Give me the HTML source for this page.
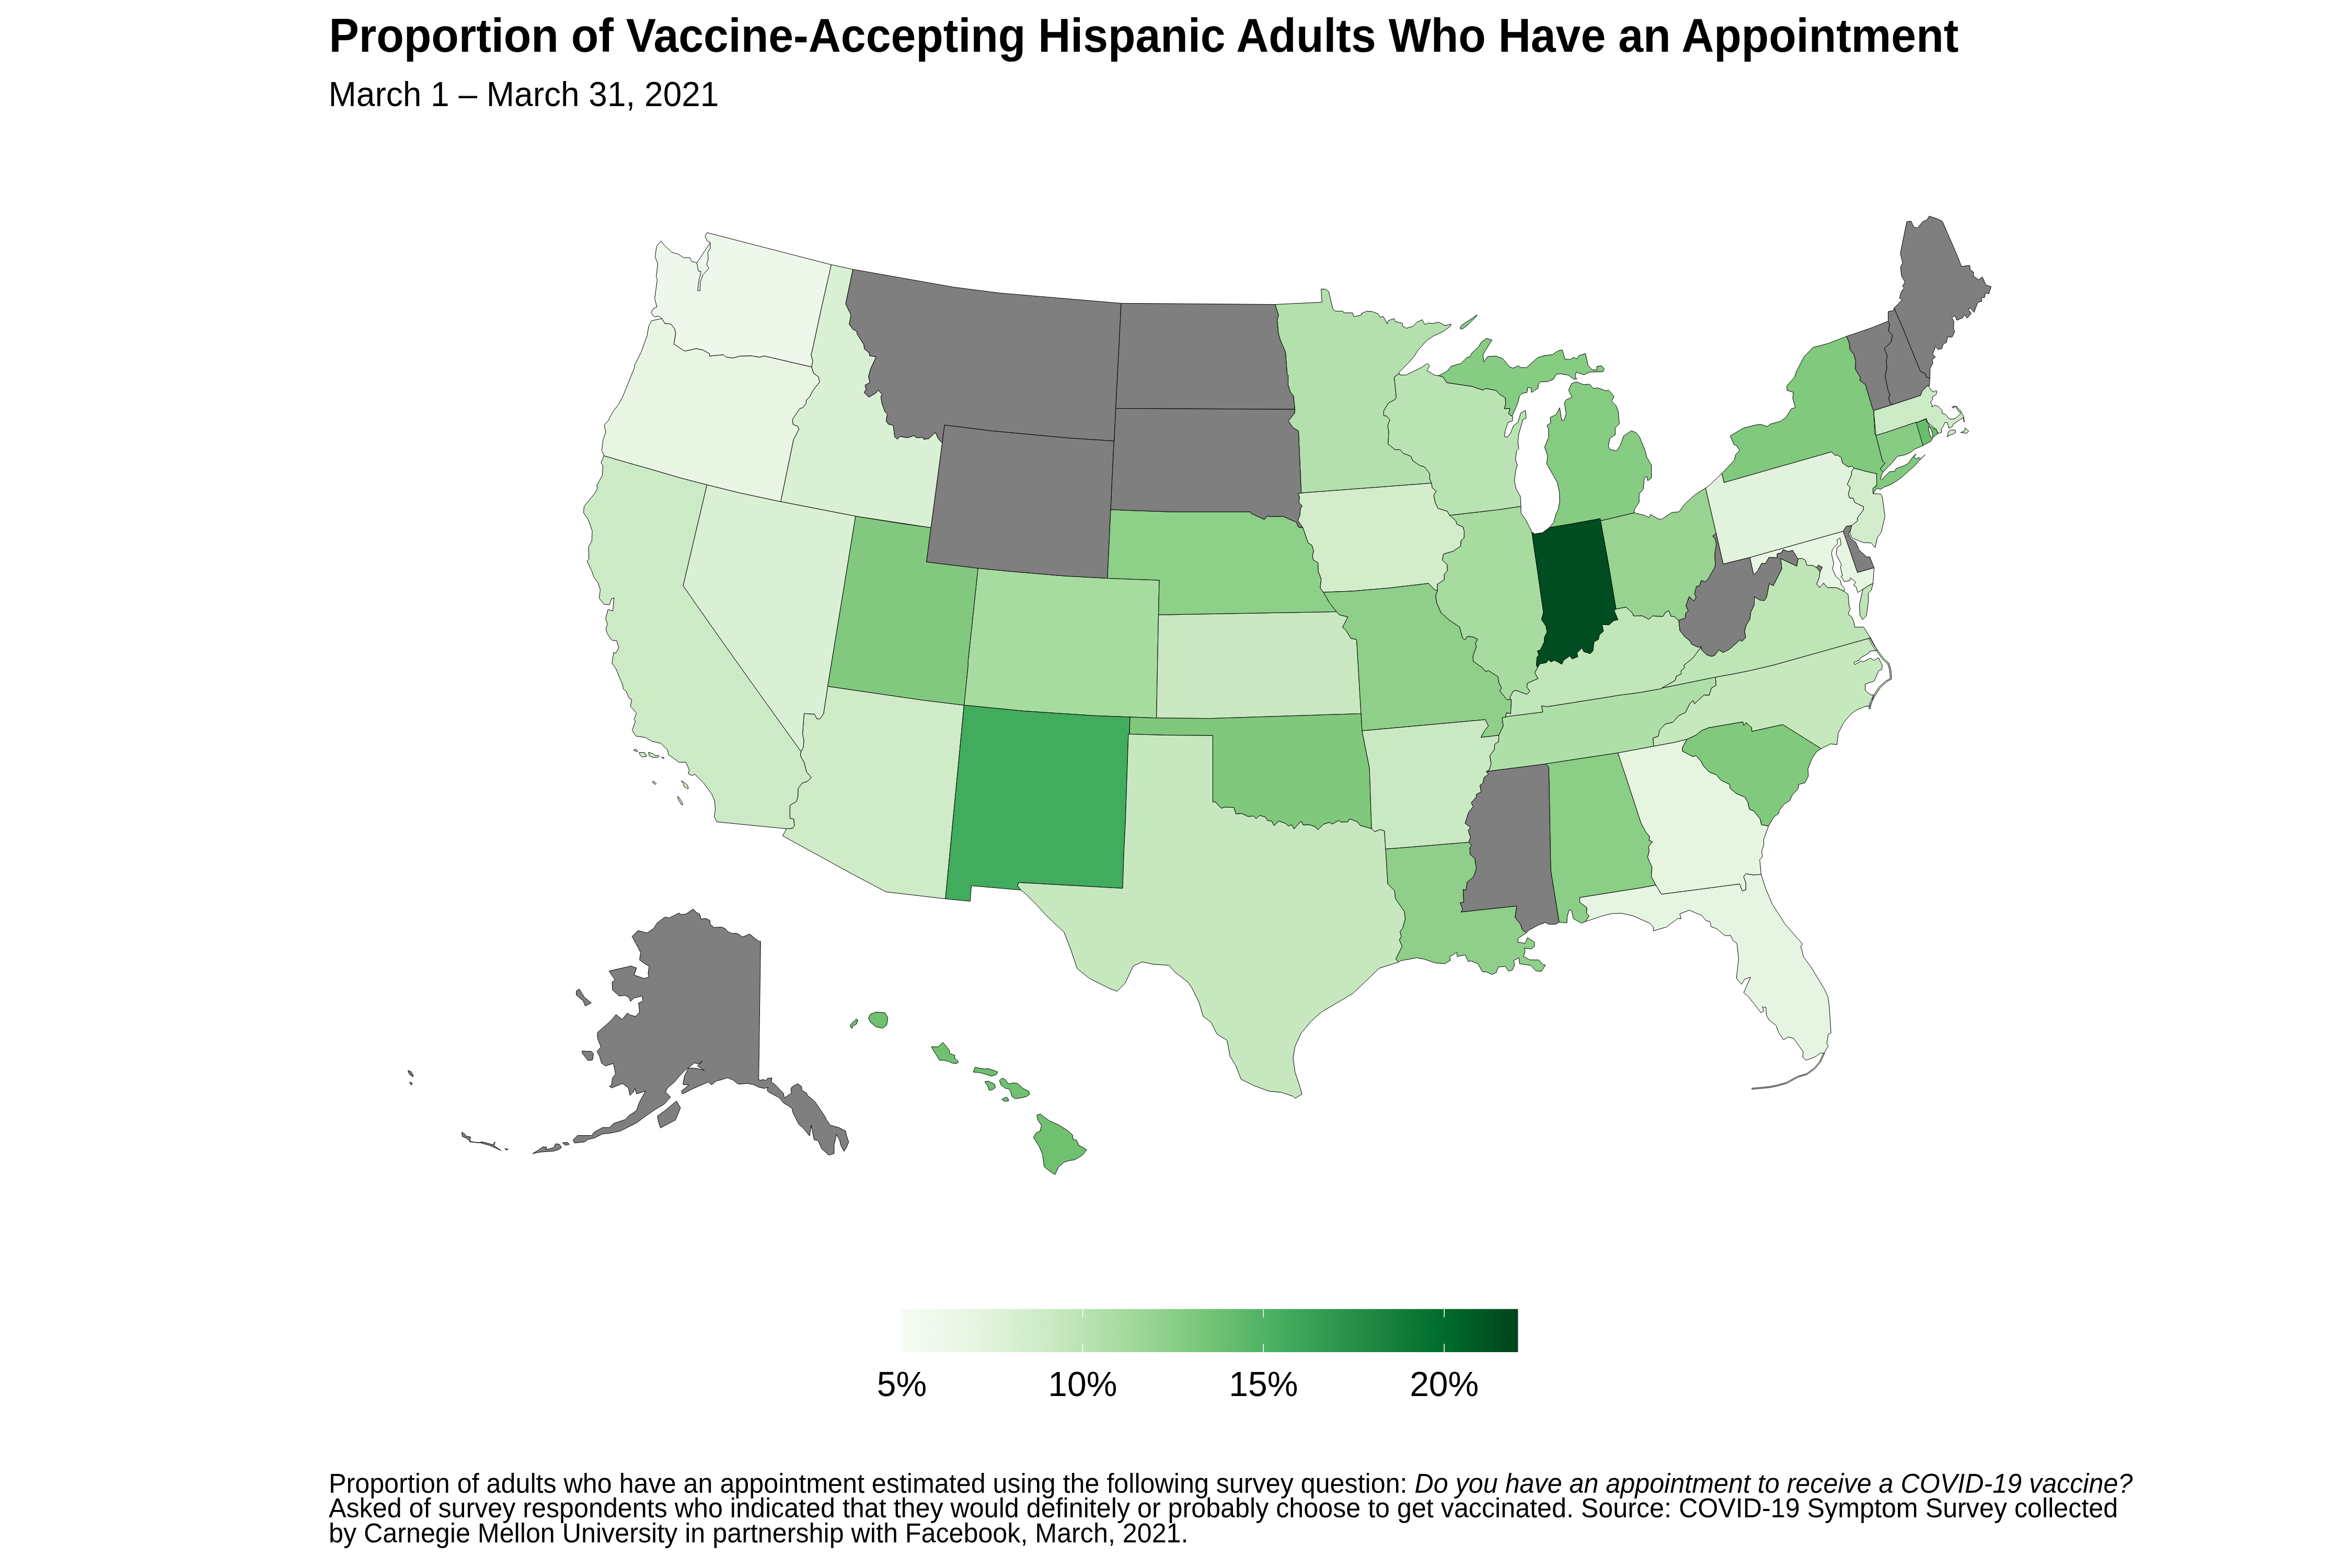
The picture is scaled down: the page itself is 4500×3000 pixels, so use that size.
<!DOCTYPE html>
<html><head><meta charset="utf-8"><style>
html,body{margin:0;padding:0;background:#fff;width:4500px;height:3000px;overflow:hidden}
svg{display:block}
text{font-family:"Liberation Sans",sans-serif;fill:#000}
</style></head><body>
<svg width="4500" height="3000" viewBox="0 0 4500 3000">
<rect width="4500" height="3000" fill="#fff"/>
<text transform="translate(629.5,99) scale(1,1.055)" font-size="86" font-weight="bold">Proportion of Vaccine-Accepting Hispanic Adults Who Have an Appointment</text>
<text transform="translate(628.5,203) scale(1,1.027)" font-size="64">March 1 – March 31, 2021</text>
<g stroke="#000" stroke-width="1.0" stroke-linejoin="round">
<path fill="#8bce86" d="M3001.9,1454.5 3095.4,1440.4 3113.6,1494.7 3139.7,1574.6 3148.8,1591.7 3156.4,1600.8 3155.0,1607.7 3161.9,1610.5 3153.9,1620.3 3155.4,1628.4 3152.3,1640.3 3160.7,1658.9 3159.4,1676.7 3168.2,1693.4 3140.7,1698.5 3022.9,1717.2 3022.1,1726.0 3036.3,1736.6 3035.5,1747.6 3040.5,1752.3 3033.4,1763.2 3025.9,1766.4 3010.3,1757.7 3006.8,1742.0 3002.3,1740.8 2998.5,1753.7 2998.0,1765.7 2983.0,1764.4 2967.0,1665.6 2964.6,1540.0 2963.2,1467.5 2956.8,1461.5 3001.9,1454.5Z"/><path fill="#cfebc8" d="M1844.5,1349.2 1808.9,1719.7 1695.0,1706.3 1632.3,1673.2 1497.4,1599.2 1504.8,1585.6 1515.9,1584.9 1519.8,1579.8 1518.6,1567.2 1511.2,1565.5 1511.3,1540.7 1523.8,1533.3 1526.7,1523.9 1527.0,1508.3 1535.2,1498.0 1544.4,1495.2 1552.2,1487.7 1543.0,1476.7 1538.3,1458.3 1531.3,1446.1 1532.5,1437.9 1537.1,1429.6 1537.9,1417.3 1535.5,1404.0 1538.4,1365.3 1558.1,1366.2 1563.2,1375.1 1568.4,1375.7 1575.6,1365.5 1583.7,1313.1 1768.4,1339.9 1844.5,1349.2Z"/><path fill="#cdeac6" d="M1201.4,885.4 1241.3,896.6 1303.9,914.9 1352.6,927.5 1326.4,1039.1 1307.1,1120.7 1358.4,1194.1 1408.5,1264.9 1449.1,1321.6 1478.8,1363.1 1532.5,1437.9 1531.3,1446.1 1538.3,1458.3 1543.0,1476.7 1552.2,1487.7 1544.4,1495.2 1535.2,1498.0 1527.0,1508.3 1526.7,1523.9 1523.8,1533.3 1511.3,1540.7 1511.2,1565.5 1518.6,1567.2 1519.8,1579.8 1515.9,1584.9 1504.8,1585.6 1431.3,1578.4 1371.5,1572.4 1366.4,1562.6 1368.6,1549.1 1367.3,1532.2 1361.7,1519.3 1347.8,1500.1 1329.1,1481.0 1324.3,1484.0 1316.5,1479.7 1319.0,1473.6 1312.2,1458.4 1299.1,1458.4 1278.9,1443.7 1277.3,1435.2 1264.6,1422.2 1247.7,1418.5 1234.8,1411.0 1216.8,1408.4 1209.5,1397.6 1215.5,1380.1 1213.0,1376.5 1217.8,1364.3 1206.3,1351.3 1208.7,1338.1 1203.8,1336.1 1197.9,1322.6 1192.6,1318.6 1191.6,1310.9 1178.3,1279.2 1170.9,1269.0 1174.1,1247.7 1177.5,1250.5 1184.1,1239.1 1179.7,1225.9 1170.5,1224.9 1161.4,1211.5 1159.3,1202.3 1162.1,1194.7 1158.9,1182.9 1163.2,1166.1 1172.5,1168.7 1174.7,1144.0 1170.1,1145.4 1166.2,1156.7 1155.8,1156.4 1146.4,1144.3 1148.5,1128.7 1144.1,1114.5 1136.1,1104.3 1133.0,1094.3 1123.1,1073.5 1126.8,1069.3 1126.1,1046.0 1132.3,1034.9 1133.1,1015.8 1125.7,994.5 1116.5,981.0 1117.5,968.8 1137.5,944.5 1142.5,935.7 1142.3,927.7 1152.3,909.8 1153.5,891.1 1149.7,885.3 1155.8,872.0 1201.4,885.4ZM1212.1,1435.0 1217.2,1433.4 1220.4,1437.2 1216.6,1437.5ZM1223.0,1439.5 1228.7,1439.5 1233.8,1440.1 1233.8,1443.0 1236.7,1444.6 1236.4,1447.4 1228.1,1448.4 1224.9,1444.9ZM1240.8,1439.1 1249.7,1442.3 1254.2,1446.1 1258.7,1444.9 1261.5,1446.8 1259.3,1449.0 1250.4,1449.3 1242.4,1446.1ZM1265.4,1448.4 1270.8,1450.0 1268.9,1451.6ZM1248.5,1495.3 1251.7,1495.3 1255.8,1499.4 1253.6,1500.7 1249.1,1497.8ZM1303.3,1494.0 1307.1,1495.6 1314.8,1501.6 1317.3,1508.0 1316.1,1509.3 1308.4,1504.8 1307.8,1499.7ZM1296.5,1523.5 1300.0,1527.0 1307.0,1539.0 1304.0,1540.0 1298.0,1530.0Z"/><path fill="#a6dc9f" d="M1927.0,1092.6 2035.4,1101.9 2118.7,1106.4 2218.0,1110.1 2216.5,1176.0 2212.6,1373.7 2162.1,1371.9 2091.6,1369.2 1958.6,1360.4 1929.6,1357.6 1844.5,1349.2 1852.2,1272.8 1852.1,1265.6 1858.1,1210.0 1871.2,1087.2 1927.0,1092.6Z"/><path fill="#88cc84" d="M3609.1,827.0 3666.5,807.5 3666.9,808.6 3679.8,845.9 3679.0,852.7 3663.3,859.2 3655.0,865.8 3645.0,870.0 3630.0,873.3 3620.0,885.8 3613.3,892.5 3602.9,903.2 3597.3,897.0 3606.5,886.2 3601.6,882.1 3589.1,833.1 3609.1,827.0Z"/><path fill="#7f7f7f" d="M3542.8,1005.6 3540.6,1014.6 3536.8,1020.4 3540.8,1030.2 3550.6,1037.4 3557.0,1052.6 3572.0,1065.8 3577.1,1065.0 3585.6,1086.3 3553.8,1095.4 3526.4,1016.3 3532.6,1006.8 3542.8,1005.6Z"/><path fill="#e6f5e1" d="M3140.7,1698.5 3168.2,1693.4 3178.7,1710.8 3256.0,1700.8 3328.3,1691.2 3333.5,1704.4 3340.2,1702.6 3340.2,1689.0 3335.9,1677.4 3340.2,1671.4 3353.9,1673.9 3369.6,1673.1 3378.2,1700.2 3391.1,1730.2 3415.2,1767.9 3448.6,1806.3 3445.4,1810.0 3450.6,1830.5 3465.6,1851.0 3491.0,1893.3 3497.2,1906.8 3499.6,1921.7 3503.2,1976.4 3498.0,1978.6 3495.2,1996.6 3498.1,2001.4 3489.0,2015.9 3484.1,2014.1 3474.0,2021.5 3455.8,2028.5 3449.2,2023.0 3450.0,2012.5 3431.9,1986.9 3420.8,1983.9 3412.4,1989.6 3402.7,1975.2 3398.5,1962.6 3384.0,1950.7 3379.5,1941.7 3379.0,1927.6 3371.9,1926.5 3374.9,1934.3 3369.2,1937.6 3345.0,1906.4 3336.2,1899.1 3349.2,1869.8 3338.2,1873.5 3332.0,1883.2 3322.3,1871.9 3326.4,1834.6 3323.3,1804.8 3315.3,1799.2 3311.5,1790.0 3300.2,1790.1 3284.9,1777.1 3273.6,1772.7 3271.4,1763.2 3263.8,1761.1 3256.1,1751.6 3232.2,1741.5 3213.9,1748.2 3216.4,1758.0 3210.0,1757.3 3188.3,1773.7 3163.5,1780.9 3163.1,1773.7 3156.0,1766.2 3123.9,1752.0 3101.7,1747.2 3082.5,1748.1 3067.0,1752.0 3033.4,1763.2 3040.5,1752.3 3035.5,1747.6 3036.3,1736.6 3022.1,1726.0 3022.9,1717.2 3140.7,1698.5ZM3489.1,2014.6 3481.2,2031.5 3471.3,2043.3 3456.6,2054.1 3439.6,2059.1 3417.6,2071.1 3399.8,2076.0 3384.9,2079.0 3351.9,2082.0 3352.1,2084.0 3385.1,2081.0 3400.2,2078.0 3418.4,2072.9 3440.4,2060.9 3457.4,2055.9 3472.7,2044.7 3482.8,2032.5 3490.9,2015.4Z"/><path fill="#e5f5e0" d="M3227.7,1414.4 3218.9,1430.5 3219.3,1437.4 3239.5,1447.7 3244.9,1445.5 3255.6,1458.0 3258.8,1465.1 3269.8,1476.8 3283.6,1482.3 3292.9,1492.9 3309.4,1500.8 3310.3,1508.3 3322.0,1518.3 3338.4,1525.0 3344.0,1534.9 3347.3,1548.5 3355.6,1551.5 3367.6,1566.9 3370.1,1577.8 3383.7,1580.5 3374.6,1605.6 3374.4,1617.4 3370.6,1628.6 3371.9,1639.0 3366.8,1645.0 3369.6,1673.1 3353.9,1673.9 3340.2,1671.4 3335.9,1677.4 3340.2,1689.0 3340.2,1702.6 3333.5,1704.4 3328.3,1691.2 3256.0,1700.8 3178.7,1710.8 3168.2,1693.4 3159.4,1676.7 3160.7,1658.9 3152.3,1640.3 3155.4,1628.4 3153.9,1620.3 3161.9,1610.5 3155.0,1607.7 3156.4,1600.8 3148.8,1591.7 3139.7,1574.6 3113.6,1494.7 3095.4,1440.4 3163.7,1427.7 3200.9,1420.9 3227.7,1414.4Z"/><path fill="#daf0d4" d="M1631.8,515.3 1618.0,581.6 1628.2,602.5 1624.9,620.3 1631.6,629.8 1639.9,634.3 1640.0,639.2 1653.0,659.8 1653.6,667.3 1663.9,676.2 1663.6,680.5 1676.5,682.5 1665.7,705.6 1661.7,720.7 1664.6,731.5 1655.1,737.2 1657.1,744.5 1653.6,751.2 1662.1,759.7 1674.8,752.8 1680.5,746.5 1687.6,754.3 1685.4,759.5 1687.7,772.7 1693.0,787.2 1697.7,792.8 1695.3,805.3 1699.7,811.5 1709.2,813.8 1711.9,835.8 1716.6,840.3 1722.4,835.0 1736.5,837.5 1748.3,833.5 1754.2,837.7 1765.5,836.4 1767.3,840.4 1777.0,839.3 1789.6,827.1 1795.3,839.7 1802.8,847.6 1781.2,1009.6 1637.0,987.7 1493.7,959.7 1518.2,841.1 1528.7,821.2 1526.2,815.4 1517.4,812.5 1516.1,802.5 1530.2,781.4 1535.5,780.3 1542.2,771.7 1542.7,765.5 1549.5,758.9 1554.7,748.0 1568.0,730.9 1566.2,721.2 1556.6,714.3 1552.8,702.1 1555.0,690.6 1551.6,678.0 1553.5,672.9 1572.2,586.4 1590.2,506.4 1631.8,515.3Z"/><path fill="#a7dba0" d="M2773.5,986.0 2862.6,975.7 2909.9,968.8 2910.1,981.6 2919.7,995.2 2930.9,1018.0 2953.2,1172.1 2949.4,1184.8 2957.7,1197.7 2960.2,1209.1 2955.1,1219.3 2954.7,1228.2 2947.4,1243.5 2941.7,1245.5 2944.2,1253.5 2940.7,1257.3 2939.7,1273.1 2942.0,1277.1 2936.4,1287.4 2942.8,1298.2 2922.3,1307.3 2921.2,1314.3 2927.1,1322.2 2921.3,1328.6 2900.9,1321.1 2895.0,1322.6 2888.4,1335.1 2891.4,1338.4 2883.0,1338.7 2869.2,1321.6 2872.9,1316.8 2867.2,1304.8 2866.0,1294.8 2847.7,1282.9 2842.2,1285.0 2835.6,1277.1 2818.9,1265.6 2818.0,1255.2 2824.8,1237.3 2822.8,1231.4 2826.9,1222.9 2819.1,1219.1 2807.7,1217.5 2802.5,1224.3 2798.1,1220.8 2792.5,1199.6 2774.1,1187.5 2757.0,1172.3 2748.6,1152.9 2746.8,1139.6 2750.2,1129.8 2749.8,1117.9 2763.0,1109.2 2763.2,1099.0 2769.1,1091.8 2768.7,1080.3 2759.6,1071.8 2761.6,1060.0 2780.3,1054.6 2794.7,1044.6 2795.1,1034.3 2801.0,1029.3 2801.4,1016.4 2799.1,1008.4 2787.5,1003.2 2785.4,996.6 2773.5,986.0Z"/><path fill="#004d21" d="M3004.6,1002.6 3061.6,992.2 3062.4,996.5 3076.6,1074.1 3091.9,1165.2 3088.5,1168.7 3095.7,1185.7 3087.0,1187.8 3078.7,1195.5 3065.2,1195.0 3067.9,1207.7 3060.2,1214.6 3058.2,1223.4 3049.8,1228.2 3047.7,1245.4 3042.5,1250.7 3030.1,1246.8 3026.9,1239.4 3017.0,1249.5 3018.9,1256.5 3007.8,1260.8 3003.5,1254.9 2991.5,1263.4 2988.3,1270.9 2974.0,1263.2 2967.5,1266.4 2962.4,1262.4 2958.8,1267.7 2946.0,1270.3 2942.0,1277.1 2939.7,1273.1 2940.7,1257.3 2944.2,1253.5 2941.7,1245.5 2947.4,1243.5 2954.7,1228.2 2955.1,1219.3 2960.2,1209.1 2957.7,1197.7 2949.4,1184.8 2953.2,1172.1 2930.9,1018.0 2936.3,1021.5 2951.2,1019.1 2964.4,1009.3 3004.6,1002.6Z"/><path fill="#d3ecca" d="M2731.6,924.8 2738.8,924.1 2740.4,933.6 2748.1,939.4 2743.2,947.9 2746.4,962.5 2751.2,972.5 2769.1,978.1 2773.5,986.0 2785.4,996.6 2787.5,1003.2 2799.1,1008.4 2801.4,1016.4 2801.0,1029.3 2795.1,1034.3 2794.7,1044.6 2780.3,1054.6 2761.6,1060.0 2759.6,1071.8 2768.7,1080.3 2769.1,1091.8 2763.2,1099.0 2763.0,1109.2 2749.8,1117.9 2750.2,1129.8 2744.5,1128.3 2733.1,1116.0 2728.0,1116.8 2657.2,1125.1 2588.7,1130.9 2532.0,1133.1 2525.8,1124.8 2527.7,1107.7 2522.1,1093.2 2521.6,1076.6 2512.7,1071.3 2510.9,1062.3 2513.5,1054.3 2509.7,1042.9 2502.8,1038.9 2492.7,1009.8 2483.1,995.7 2486.9,985.8 2488.0,972.8 2491.4,967.9 2485.1,961.7 2486.2,950.1 2483.4,944.8 2489.6,943.1 2731.6,924.8Z"/><path fill="#c9e8c1" d="M2223.9,1176.2 2557.1,1170.4 2562.4,1176.2 2579.0,1180.3 2568.7,1200.1 2575.5,1206.2 2584.5,1221.2 2595.6,1223.7 2604.0,1365.4 2315.6,1374.7 2212.6,1373.7 2216.5,1176.0 2223.9,1176.2Z"/><path fill="#c0e6b9" d="M3141.7,1178.1 3154.6,1184.7 3161.7,1178.4 3181.7,1179.5 3185.9,1172.0 3192.7,1168.4 3197.0,1178.9 3203.2,1179.5 3211.8,1186.9 3214.3,1206.7 3222.9,1217.8 3232.8,1225.7 3236.8,1232.6 3248.1,1237.9 3254.9,1237.5 3238.9,1259.1 3222.0,1272.7 3223.0,1277.7 3216.2,1283.6 3216.7,1289.3 3207.3,1293.9 3205.2,1301.7 3179.3,1316.6 3178.6,1317.8 3134.2,1325.6 3095.1,1330.6 3078.5,1333.5 2961.3,1352.0 2949.5,1350.8 2951.9,1362.5 2886.6,1370.7 2880.3,1372.2 2882.2,1363.6 2890.3,1365.4 2891.4,1338.4 2888.4,1335.1 2895.0,1322.6 2900.9,1321.1 2921.3,1328.6 2927.1,1322.2 2921.2,1314.3 2922.3,1307.3 2942.8,1298.2 2936.4,1287.4 2942.0,1277.1 2946.0,1270.3 2958.8,1267.7 2962.4,1262.4 2967.5,1266.4 2974.0,1263.2 2988.3,1270.9 2991.5,1263.4 3003.5,1254.9 3007.8,1260.8 3018.9,1256.5 3017.0,1249.5 3026.9,1239.4 3030.1,1246.8 3042.5,1250.7 3047.7,1245.4 3049.8,1228.2 3058.2,1223.4 3060.2,1214.6 3067.9,1207.7 3065.2,1195.0 3078.7,1195.5 3087.0,1187.8 3095.7,1185.7 3088.5,1168.7 3091.9,1165.2 3111.1,1161.5 3123.7,1173.1 3125.5,1178.6 3141.7,1178.1Z"/><path fill="#7f7f7f" d="M3478.9,1080.9 3486.7,1085.5 3482.1,1094.0 3475.9,1086.0 3478.9,1080.9Z"/><path fill="#8fcf89" d="M2674.9,1622.5 2810.0,1611.4 2815.9,1618.4 2812.2,1621.6 2812.8,1634.9 2821.8,1642.3 2824.8,1661.5 2819.5,1677.2 2807.1,1687.9 2805.1,1702.8 2799.4,1702.0 2800.6,1726.0 2793.8,1727.4 2798.9,1739.9 2795.3,1744.9 2902.0,1733.3 2898.7,1755.3 2909.4,1768.5 2912.7,1778.9 2920.3,1784.8 2904.4,1795.8 2903.8,1802.4 2918.0,1805.0 2922.8,1793.9 2935.8,1802.8 2935.7,1811.1 2929.2,1815.5 2916.0,1813.9 2918.2,1819.7 2914.8,1829.5 2926.6,1836.4 2944.5,1836.7 2951.8,1845.5 2957.0,1846.3 2949.0,1858.5 2938.7,1857.6 2929.0,1847.3 2907.3,1843.8 2906.2,1832.7 2896.2,1837.5 2897.7,1846.7 2893.8,1855.8 2886.4,1858.1 2879.8,1849.1 2866.5,1850.2 2862.7,1860.7 2854.1,1864.5 2844.1,1859.5 2836.4,1859.5 2827.8,1844.2 2814.3,1838.4 2809.3,1840.0 2803.1,1826.9 2788.2,1830.1 2787.2,1822.0 2773.1,1831.2 2775.4,1837.1 2764.5,1843.8 2746.7,1842.5 2725.6,1835.3 2710.8,1832.5 2679.8,1838.1 2675.9,1840.9 2670.5,1834.8 2682.5,1810.6 2677.3,1798.5 2681.0,1791.4 2678.6,1782.6 2683.7,1775.4 2688.6,1758.1 2686.8,1744.2 2669.5,1718.9 2668.3,1704.6 2655.1,1691.2 2651.0,1624.2 2674.9,1622.5Z"/><path fill="#7f7f7f" d="M3692.4,723.9 3685.4,721.5 3683.9,715.0 3674.2,710.5 3641.0,629.1 3623.9,589.4 3639.0,573.7 3634.3,570.5 3637.6,558.1 3643.1,550.9 3640.2,547.7 3644.7,539.2 3638.4,529.1 3636.1,511.0 3640.3,503.0 3635.9,484.6 3648.2,424.1 3656.4,423.0 3661.6,434.4 3668.6,436.2 3678.8,423.9 3687.0,420.4 3690.9,413.5 3706.3,418.4 3716.4,423.6 3746.4,492.7 3752.5,509.7 3768.6,507.8 3769.6,515.8 3776.1,520.9 3775.8,528.3 3785.7,535.2 3792.6,529.7 3799.9,545.6 3809.6,548.3 3805.0,562.0 3798.4,560.5 3797.1,569.1 3790.4,570.1 3792.1,576.1 3783.9,578.9 3776.9,597.6 3770.1,589.7 3765.4,590.9 3771.5,599.9 3763.6,608.8 3758.1,602.0 3755.1,608.0 3744.1,612.7 3740.2,603.6 3734.5,608.3 3738.2,614.3 3737.5,630.5 3740.2,633.8 3735.1,644.6 3726.0,645.1 3724.3,654.9 3718.0,658.6 3715.0,667.3 3707.8,668.6 3703.3,662.6 3697.7,677.4 3702.9,683.2 3696.6,688.4 3698.3,694.5 3692.8,704.9 3692.4,723.9Z"/><path fill="#e7f6e2" d="M3347.8,1066.6 3526.5,1016.3 3553.8,1095.4 3585.6,1086.3 3583.6,1116.3 3576.4,1119.7 3564.0,1127.7 3554.2,1133.7 3551.6,1123.1 3546.4,1120.1 3550.8,1113.8 3540.3,1105.6 3539.2,1110.9 3528.7,1112.9 3522.0,1102.4 3525.2,1101.4 3521.3,1086.3 3522.9,1079.4 3513.0,1060.3 3515.0,1046.8 3522.6,1042.2 3520.5,1029.6 3514.8,1032.8 3516.3,1039.2 3505.8,1051.1 3504.2,1059.5 3508.5,1078.4 3506.0,1088.5 3512.2,1102.6 3521.4,1110.9 3522.7,1118.9 3528.9,1125.4 3528.1,1131.3 3514.0,1124.5 3496.5,1124.3 3489.0,1115.8 3481.3,1124.1 3475.8,1117.4 3480.5,1105.4 3482.1,1094.0 3486.7,1085.5 3478.9,1080.9 3475.9,1086.0 3467.9,1081.8 3456.9,1081.6 3454.4,1072.1 3447.7,1068.3 3439.9,1069.4 3429.7,1053.0 3421.4,1055.3 3411.6,1051.6 3408.4,1057.7 3400.3,1059.5 3400.2,1067.1 3384.6,1066.4 3377.4,1078.4 3370.4,1078.0 3363.4,1091.5 3355.2,1099.9 3347.8,1066.6Z"/><path fill="#cdeac6" d="M3686.8,738.2 3681.0,745.2 3677.0,748.9 3674.3,756.6 3621.5,773.9 3584.8,785.5 3589.1,833.1 3609.1,827.0 3666.5,807.5 3666.9,808.6 3685.5,800.7 3688.3,808.7 3699.5,816.9 3709.0,829.3 3714.8,826.9 3714.2,820.6 3717.4,816.7 3721.2,808.4 3725.7,808.4 3728.9,819.3 3735.3,816.1 3736.5,812.3 3744.8,806.5 3755.7,798.9 3758.2,807.8 3756.9,796.3 3751.2,786.1 3742.9,777.2 3737.2,777.2 3734.6,779.1 3737.8,781.0 3739.1,777.8 3742.9,779.1 3746.1,786.1 3749.9,787.4 3750.6,792.5 3744.2,797.6 3742.3,800.2 3735.3,802.1 3728.9,801.4 3726.3,797.6 3721.9,792.5 3716.1,791.2 3715.5,784.8 3707.8,777.2 3700.2,775.3 3696.4,779.1 3696.4,774.6 3693.8,769.5 3698.3,762.5 3696.4,760.0 3704.6,754.2 3705.9,749.1 3704.0,746.9 3700.8,749.8 3695.7,747.9 3690.0,739.2 3691.5,737.7 3686.8,738.2ZM3725.5,836.0 3728.0,826.0 3733.0,822.5 3741.0,823.0 3741.5,828.0 3735.0,831.0 3730.0,833.0ZM3751.0,827.6 3759.0,824.4 3760.0,818.5 3766.5,825.0 3763.0,829.0Z"/><path fill="#86cc82" d="M3126.9,981.2 3062.4,996.5 3061.6,992.2 3004.6,1002.6 2964.4,1009.3 2972.8,999.2 2977.0,983.4 2981.6,973.5 2984.0,960.2 2983.7,941.9 2979.4,922.8 2959.2,887.3 2961.2,872.3 2955.2,855.7 2963.0,836.4 2962.8,821.4 2959.9,813.8 2966.9,809.2 2966.1,798.4 2977.3,793.4 2984.2,780.0 2987.7,803.7 2992.7,803.9 2996.5,791.1 2993.1,771.1 2996.0,765.4 3007.8,759.8 3001.2,746.7 3007.1,733.4 3017.1,730.8 3029.9,736.0 3041.1,734.9 3048.4,743.1 3056.9,742.1 3072.8,747.7 3077.6,746.3 3088.2,758.5 3083.5,767.3 3091.5,775.6 3096.0,786.2 3098.3,810.9 3090.2,818.9 3090.5,831.8 3080.2,838.3 3077.1,854.5 3080.5,859.7 3092.8,862.8 3099.8,852.8 3106.5,834.0 3121.1,824.2 3129.9,827.5 3136.7,835.6 3147.3,861.5 3150.9,874.9 3159.6,890.0 3159.7,914.5 3152.7,919.8 3150.6,911.3 3146.0,914.9 3144.1,935.7 3136.0,945.2 3136.2,960.7 3126.6,975.7 3126.9,981.2ZM2894.3,797.4 2886.2,791.7 2889.0,781.7 2878.0,782.0 2880.9,772.4 2879.7,760.9 2869.0,754.4 2862.6,747.0 2842.3,743.4 2836.7,746.4 2816.1,739.4 2767.9,732.2 2761.6,721.7 2752.7,718.8 2769.3,709.8 2776.1,700.9 2795.3,695.2 2806.6,683.8 2812.4,682.6 2816.3,675.1 2828.7,663.5 2834.5,654.3 2844.1,647.4 2854.6,650.5 2840.3,673.1 2837.2,680.5 2839.2,692.7 2846.3,682.1 2861.9,681.2 2874.8,685.8 2888.4,702.0 2894.7,704.3 2905.5,699.6 2908.8,703.1 2920.4,703.4 2941.7,684.3 2953.9,680.6 2970.5,678.4 2980.7,671.3 2989.1,669.4 2994.3,687.2 3003.5,688.0 3011.7,683.5 3016.2,687.0 3020.9,680.5 3033.4,676.2 3038.3,698.9 3046.1,707.3 3055.4,708.0 3055.0,701.4 3063.5,699.6 3069.6,705.4 3066.7,711.2 3041.4,711.9 3030.2,717.1 3015.9,711.8 3013.7,719.6 3016.5,725.3 3010.6,725.0 3000.6,717.7 2985.1,715.1 2977.7,716.1 2972.1,725.9 2960.7,730.2 2947.6,730.7 2943.1,735.1 2943.0,742.5 2930.0,750.9 2929.3,742.2 2922.8,741.5 2921.8,750.8 2911.5,752.9 2907.4,757.6 2902.9,774.1 2893.0,795.8 2894.3,797.4ZM2793.5,627.0 2797.0,622.0 2815.0,610.0 2826.0,602.5 2824.0,606.0 2808.0,622.0 2800.0,628.0 2795.0,630.0Z"/><path fill="#b3e0ac" d="M2679.9,717.7 2676.2,715.2 2667.7,721.5 2671.4,760.3 2669.1,764.5 2656.6,771.1 2647.4,786.2 2647.5,795.4 2652.8,795.8 2659.4,803.5 2655.0,814.1 2657.0,825.1 2655.9,849.5 2669.2,860.3 2679.0,860.4 2684.6,867.2 2699.6,872.9 2702.8,881.3 2717.3,891.1 2725.0,892.8 2735.6,906.2 2735.4,916.8 2738.8,924.0 2731.5,924.8 2489.6,943.1 2484.4,824.8 2473.4,817.7 2464.8,805.4 2476.8,790.8 2477.5,783.2 2474.6,757.0 2468.9,750.4 2464.5,736.1 2464.6,718.4 2462.7,715.6 2459.5,673.5 2449.9,651.5 2446.1,639.0 2443.6,612.4 2446.2,603.2 2439.7,582.5 2529.3,578.2 2527.7,553.0 2536.2,553.2 2542.2,557.9 2550.2,591.7 2555.0,595.3 2569.3,595.4 2571.2,598.5 2587.9,598.7 2590.4,605.8 2604.6,602.8 2604.3,599.9 2615.2,595.4 2625.0,596.0 2636.7,600.4 2640.4,606.9 2646.8,605.6 2654.2,619.7 2656.5,613.4 2667.1,609.4 2669.7,615.3 2683.0,618.3 2683.7,624.0 2690.6,628.0 2703.5,624.1 2710.7,616.7 2720.9,611.6 2725.9,620.8 2733.1,617.8 2742.2,618.9 2752.2,616.2 2765.0,622.9 2776.1,620.0 2775.6,623.7 2762.1,633.9 2742.5,642.9 2730.0,651.2 2712.9,670.3 2705.8,681.6 2694.4,694.8 2676.0,712.7 2679.9,717.7Z"/><path fill="#7f7f7f" d="M2942.4,1463.5 2956.8,1461.5 2963.2,1467.5 2964.6,1540.0 2967.0,1665.6 2983.0,1764.5 2977.1,1768.1 2963.3,1768.5 2957.2,1765.0 2943.9,1769.6 2925.7,1779.5 2920.3,1784.8 2912.7,1778.9 2909.4,1768.5 2898.7,1755.3 2902.0,1733.3 2795.3,1744.9 2798.9,1739.9 2793.8,1727.4 2800.6,1726.0 2799.4,1702.0 2805.1,1702.8 2807.1,1687.9 2819.5,1677.2 2824.8,1661.5 2821.8,1642.3 2812.8,1634.9 2812.2,1621.6 2815.9,1618.4 2810.0,1611.4 2813.4,1602.0 2809.1,1588.7 2813.5,1582.9 2803.0,1575.3 2809.8,1554.3 2818.7,1542.9 2814.7,1536.1 2825.0,1524.1 2824.3,1519.9 2833.7,1515.2 2831.5,1502.4 2836.8,1498.9 2839.5,1487.4 2847.6,1481.4 2843.7,1476.0 2942.4,1463.5Z"/><path fill="#8fcf89" d="M2728.0,1116.9 2733.1,1116.0 2744.5,1128.2 2750.2,1129.8 2746.7,1139.6 2748.6,1152.9 2756.9,1172.3 2774.1,1187.5 2792.5,1199.6 2798.1,1220.8 2802.5,1224.3 2807.7,1217.5 2819.1,1219.1 2826.9,1222.9 2822.8,1231.4 2824.8,1237.3 2818.0,1255.2 2818.9,1265.6 2835.6,1277.1 2842.2,1285.0 2847.7,1282.9 2866.0,1294.7 2867.2,1304.8 2872.9,1316.8 2869.2,1321.6 2883.1,1338.7 2891.4,1338.4 2890.3,1365.4 2882.2,1363.6 2880.3,1372.2 2876.9,1372.6 2874.0,1373.0 2876.1,1389.0 2867.6,1406.8 2833.3,1410.9 2840.4,1397.7 2847.7,1388.9 2841.7,1376.9 2605.9,1398.1 2603.9,1365.4 2595.6,1223.7 2584.5,1221.2 2575.5,1206.2 2568.7,1200.1 2579.0,1180.3 2562.4,1176.3 2557.1,1170.4 2543.8,1153.8 2532.0,1133.2 2588.7,1130.9 2657.2,1125.1 2728.0,1116.9Z"/><path fill="#7f7f7f" d="M2145.0,580.3 2141.3,655.3 2134.7,781.4 2131.8,843.8 2131.1,843.7 2044.8,838.1 1898.2,824.5 1807.2,813.2 1802.8,847.6 1795.3,839.6 1789.6,827.1 1777.0,839.2 1767.3,840.4 1765.5,836.5 1754.2,837.7 1748.3,833.5 1736.5,837.6 1722.4,835.0 1716.6,840.3 1711.9,835.8 1709.2,813.8 1699.7,811.5 1695.4,805.2 1697.7,792.8 1693.0,787.2 1687.7,772.7 1685.4,759.5 1687.6,754.3 1680.5,746.5 1674.8,752.8 1662.1,759.8 1653.6,751.2 1657.1,744.5 1655.2,737.2 1664.6,731.5 1661.7,720.7 1665.8,705.6 1676.5,682.5 1663.6,680.5 1663.9,676.2 1653.5,667.2 1653.0,659.7 1640.0,639.2 1639.9,634.4 1631.6,629.8 1624.9,620.3 1628.2,602.5 1618.0,581.6 1631.9,515.3 1824.7,549.4 1912.3,560.6 2145.0,580.3Z"/><path fill="#8dd088" d="M2160.0,976.5 2241.7,979.3 2392.4,979.3 2394.0,982.5 2419.1,993.9 2424.8,987.2 2431.7,988.5 2454.4,987.8 2480.3,999.1 2483.9,1008.3 2492.7,1009.7 2502.8,1038.9 2509.7,1042.9 2513.5,1054.3 2510.9,1062.4 2512.7,1071.3 2521.6,1076.6 2522.1,1093.2 2527.7,1107.7 2525.8,1124.8 2532.0,1133.2 2543.8,1153.8 2557.1,1170.4 2223.9,1176.2 2216.5,1176.0 2218.0,1110.1 2118.7,1106.4 2124.9,974.9 2160.0,976.5Z"/><path fill="#daf0d4" d="M1493.7,959.8 1637.0,987.7 1583.7,1313.1 1575.6,1365.5 1568.4,1375.7 1563.2,1375.1 1558.1,1366.2 1538.5,1365.3 1535.5,1404.0 1537.9,1417.2 1537.1,1429.6 1532.5,1437.9 1478.8,1363.1 1449.0,1321.6 1408.5,1264.9 1358.4,1194.1 1307.1,1120.7 1326.3,1039.1 1352.6,927.5 1414.2,942.8 1493.7,959.8Z"/><path fill="#7f7f7f" d="M3623.9,589.4 3641.0,629.1 3674.2,710.5 3683.9,715.0 3685.4,721.5 3692.4,723.9 3691.5,737.6 3686.8,738.2 3681.0,745.2 3677.1,748.9 3674.3,756.6 3621.5,773.7 3616.0,770.6 3613.2,760.8 3616.0,756.0 3612.4,747.1 3606.6,719.3 3610.0,704.0 3608.9,688.5 3610.9,681.9 3605.2,666.5 3617.7,655.2 3620.9,641.9 3613.1,633.1 3615.3,620.5 3612.6,614.5 3612.7,596.0 3623.2,594.0 3623.9,589.4Z"/><path fill="#d3edcc" d="M3572.8,902.5 3591.2,906.4 3591.4,926.7 3585.0,933.4 3583.9,944.5 3598.3,945.2 3601.6,952.1 3606.4,988.1 3599.2,1018.5 3591.7,1029.0 3587.7,1047.8 3580.1,1038.8 3564.6,1038.0 3543.4,1029.4 3539.6,1020.3 3539.0,1018.9 3540.6,1014.6 3542.8,1005.5 3554.1,996.3 3553.5,991.1 3564.9,976.0 3565.6,969.7 3548.3,961.1 3545.4,953.2 3538.8,953.0 3536.1,945.8 3540.0,932.4 3534.1,926.9 3541.9,909.9 3542.4,902.1 3547.1,895.6 3572.8,902.5Z"/><path fill="#41ac5d" d="M1929.5,1357.5 1958.6,1360.4 2091.6,1369.2 2162.0,1371.9 2161.0,1404.6 2158.9,1404.6 2153.4,1567.7 2150.1,1634.0 2148.0,1699.6 1948.9,1688.5 1946.9,1694.8 1952.9,1702.8 1858.5,1694.7 1856.1,1724.4 1808.9,1719.7 1844.6,1349.2 1929.5,1357.5Z"/><path fill="#80c97d" d="M3533.1,643.4 3538.1,656.4 3539.7,669.0 3547.6,679.0 3550.5,691.5 3549.7,706.1 3559.4,722.1 3558.7,728.1 3569.2,736.1 3582.3,780.2 3584.6,785.6 3587.3,831.0 3589.1,833.1 3601.6,882.1 3606.5,886.1 3597.3,897.0 3602.9,903.2 3599.2,910.8 3598.3,915.8 3600.4,918.3 3605.0,912.5 3615.0,902.5 3625.0,901.7 3627.5,896.7 3643.3,890.8 3650.8,886.7 3659.2,875.0 3665.8,868.3 3661.7,875.4 3666.7,877.9 3671.7,875.0 3674.2,878.3 3683.3,870.0 3673.3,880.0 3661.7,892.5 3638.3,913.3 3626.7,921.7 3615.0,928.3 3605.0,931.7 3598.3,936.3 3591.7,934.2 3590.8,934.2 3583.8,944.2 3583.3,934.2 3590.0,930.0 3590.8,929.2 3590.4,907.5 3591.2,906.4 3572.8,902.5 3547.1,895.6 3543.7,891.7 3536.5,893.7 3524.8,885.6 3522.9,875.8 3515.1,870.3 3511.7,871.8 3504.0,864.6 3298.5,923.3 3294.5,907.1 3294.3,906.0 3318.4,880.3 3320.7,870.2 3328.3,861.8 3321.9,851.8 3317.6,850.8 3310.3,833.9 3335.2,819.2 3359.1,813.0 3369.1,812.0 3381.3,816.1 3387.0,811.4 3406.9,806.0 3417.5,797.9 3426.8,782.5 3434.9,779.7 3430.0,762.1 3431.2,750.7 3419.0,746.8 3418.8,738.1 3433.4,721.8 3437.1,710.3 3451.8,682.3 3468.3,665.0 3498.6,656.9 3533.1,643.4Z"/><path fill="#c5e8bd" d="M3318.7,1289.0 3354.1,1281.7 3394.2,1272.2 3578.9,1220.4 3591.6,1244.2 3576.8,1246.0 3575.7,1249.7 3559.5,1258.7 3557.9,1262.9 3546.8,1267.3 3548.5,1271.7 3561.6,1264.5 3564.3,1266.7 3578.8,1259.0 3585.4,1263.5 3593.9,1258.3 3601.4,1272.7 3600.3,1281.0 3594.4,1283.5 3585.7,1303.1 3568.7,1308.9 3568.7,1320.6 3578.8,1329.3 3585.3,1329.7 3578.9,1350.8 3569.0,1351.4 3553.0,1357.9 3542.5,1365.0 3527.6,1382.3 3517.2,1402.4 3514.5,1424.8 3502.5,1423.2 3484.4,1432.5 3410.9,1386.3 3351.8,1399.4 3351.1,1391.8 3340.8,1382.7 3336.1,1387.8 3334.4,1381.2 3269.1,1392.4 3255.2,1398.0 3245.1,1406.4 3227.7,1414.4 3200.9,1420.9 3163.7,1427.7 3162.6,1412.1 3172.8,1408.7 3174.9,1397.3 3186.2,1385.1 3200.5,1381.9 3211.6,1369.4 3224.5,1363.1 3233.1,1346.1 3239.5,1340.4 3242.1,1346.4 3260.2,1329.6 3270.1,1330.1 3274.2,1316.6 3283.1,1311.3 3282.3,1295.5 3318.7,1289.0ZM3575.9,1222.1 3583.6,1236.8 3602.8,1262.4 3611.7,1270.0 3615.3,1282.2 3616.7,1298.2 3608.1,1302.7 3595.2,1314.4 3583.6,1332.4 3577.1,1345.4 3575.7,1355.8 3578.3,1356.2 3579.5,1346.2 3585.8,1333.8 3597.2,1316.0 3609.7,1304.7 3619.1,1299.0 3617.9,1281.8 3613.9,1268.6 3604.8,1260.8 3585.8,1235.4 3578.1,1220.9Z"/><path fill="#7f7f7f" d="M2439.7,582.5 2446.2,603.2 2443.6,612.4 2446.1,639.0 2449.9,651.5 2459.5,673.5 2462.7,715.6 2464.6,718.4 2464.5,736.1 2468.9,750.4 2474.6,757.0 2477.5,783.2 2134.7,781.4 2141.3,655.3 2145.0,580.3 2439.7,582.5Z"/><path fill="#98d391" d="M3263.2,933.7 3283.4,1020.3 3277.0,1025.6 3282.1,1031.8 3284.1,1041.8 3281.0,1058.9 3281.8,1083.7 3267.3,1109.1 3261.6,1113.4 3255.3,1110.4 3251.6,1120.9 3245.8,1121.9 3242.2,1135.7 3245.1,1142.8 3241.2,1150.0 3231.8,1141.7 3225.7,1159.4 3230.2,1168.8 3224.9,1173.7 3224.7,1182.6 3211.8,1186.9 3203.1,1179.5 3197.0,1178.9 3192.7,1168.4 3185.9,1172.0 3181.7,1179.5 3161.8,1178.4 3154.6,1184.7 3141.7,1178.0 3125.6,1178.6 3123.7,1173.1 3111.1,1161.5 3091.9,1165.1 3076.6,1074.1 3062.4,996.5 3126.9,981.2 3147.3,986.2 3154.7,990.2 3158.4,984.2 3171.1,992.2 3178.3,994.0 3198.8,980.5 3212.3,979.3 3223.8,964.0 3241.7,947.5 3263.2,933.7Z"/><path fill="#80c87c" d="M2315.7,1374.6 2603.9,1365.4 2605.9,1398.1 2620.2,1470.0 2624.1,1585.4 2602.6,1579.5 2596.8,1572.3 2582.3,1566.7 2579.0,1572.6 2564.9,1573.0 2561.7,1569.6 2549.1,1576.7 2543.5,1573.4 2531.9,1577.2 2521.5,1587.7 2517.1,1582.2 2505.5,1578.0 2493.4,1578.4 2489.3,1571.0 2475.9,1586.2 2471.1,1578.1 2464.9,1580.8 2459.9,1575.6 2446.9,1571.0 2437.5,1579.8 2433.1,1571.0 2425.2,1570.1 2420.6,1563.0 2410.0,1560.3 2403.2,1566.6 2398.6,1561.3 2387.9,1562.2 2375.8,1556.6 2364.7,1557.4 2360.7,1544.9 2343.4,1544.3 2336.8,1546.5 2324.5,1533.9 2320.4,1534.7 2320.3,1407.4 2224.0,1406.4 2161.0,1404.6 2162.0,1371.9 2212.6,1373.7 2315.7,1374.6Z"/><path fill="#e8f5e3" d="M1279.5,619.4 1283.8,620.0 1291.0,629.3 1292.8,638.2 1289.4,658.1 1309.9,671.7 1332.0,667.0 1344.3,669.3 1357.4,676.6 1357.7,681.2 1384.3,678.5 1389.2,683.2 1402.7,684.9 1415.2,681.3 1436.0,680.6 1454.0,683.5 1461.1,680.8 1552.8,702.1 1556.6,714.4 1566.2,721.2 1568.0,730.8 1554.7,748.0 1549.5,758.8 1542.7,765.5 1542.2,771.7 1535.5,780.3 1530.3,781.4 1516.1,802.5 1517.4,812.4 1526.2,815.4 1528.7,821.2 1518.2,841.1 1493.7,959.8 1414.2,942.8 1352.6,927.5 1303.9,914.9 1241.3,896.6 1201.4,885.4 1155.8,872.0 1151.4,862.6 1154.0,840.9 1159.0,826.8 1156.1,813.7 1163.8,804.6 1172.1,788.5 1184.3,772.5 1192.1,757.3 1213.3,704.8 1214.8,697.2 1226.3,674.8 1238.0,642.6 1241.2,623.7 1246.6,613.6 1266.7,609.5 1272.1,619.1 1279.5,619.4Z"/><path fill="#e1f3dc" d="M3294.5,907.1 3298.5,923.3 3504.0,864.6 3511.7,871.8 3515.1,870.3 3522.9,875.8 3524.8,885.6 3536.5,893.7 3543.7,891.7 3547.1,895.6 3542.4,902.1 3541.9,909.9 3534.1,926.9 3540.0,932.4 3536.1,945.8 3538.8,953.0 3545.4,953.2 3548.3,961.1 3565.6,969.7 3564.9,976.0 3553.5,991.1 3554.1,996.3 3542.8,1005.5 3532.6,1006.8 3526.5,1016.3 3347.8,1066.6 3296.9,1079.3 3283.4,1020.3 3263.2,933.7 3271.1,928.0 3294.3,906.0 3294.5,907.1Z"/><path fill="#69be6e" d="M3666.4,809.1 3684.8,801.9 3687.4,809.1 3689.3,808.7 3691.6,815.2 3695.9,816.8 3698.9,819.8 3704.3,820.6 3707.8,829.5 3698.6,836.5 3694.4,844.2 3679.1,852.3Z"/><path fill="#80c97d" d="M3245.1,1406.4 3255.2,1398.0 3269.1,1392.4 3334.4,1381.2 3336.1,1387.8 3340.8,1382.7 3351.1,1391.8 3351.8,1399.4 3410.9,1386.3 3484.4,1432.5 3475.9,1438.0 3466.7,1451.6 3459.0,1471.1 3459.9,1485.0 3453.2,1497.9 3441.2,1500.9 3440.2,1509.3 3429.3,1520.9 3424.2,1531.8 3413.8,1538.4 3403.7,1551.1 3403.4,1556.0 3393.2,1563.9 3383.7,1580.6 3370.1,1577.8 3367.6,1566.9 3355.6,1551.5 3347.3,1548.5 3344.0,1534.9 3338.4,1525.0 3322.0,1518.3 3310.2,1508.3 3309.4,1500.8 3292.9,1492.9 3283.6,1482.3 3269.8,1476.8 3258.8,1465.1 3255.6,1458.0 3244.8,1445.5 3239.5,1447.7 3219.2,1437.4 3218.9,1430.5 3227.7,1414.4 3245.1,1406.4Z"/><path fill="#7f7f7f" d="M2134.7,781.4 2477.5,783.2 2476.8,790.8 2464.8,805.4 2473.4,817.7 2484.4,824.8 2489.6,943.1 2483.4,944.8 2486.2,950.1 2485.1,961.7 2491.4,967.9 2488.0,972.8 2486.9,985.8 2483.1,995.7 2492.7,1009.7 2483.9,1008.3 2480.3,999.1 2454.4,987.8 2431.7,988.5 2424.8,987.2 2419.1,993.9 2394.0,982.5 2392.4,979.3 2241.7,979.3 2160.0,976.5 2124.9,974.9 2131.1,843.7 2131.8,843.8 2134.7,781.4Z"/><path fill="#afdfa8" d="M2951.9,1362.4 2949.5,1350.8 2961.3,1352.0 3078.6,1333.5 3095.1,1330.6 3134.1,1325.6 3178.6,1317.8 3179.2,1316.6 3282.3,1295.5 3283.1,1311.3 3274.2,1316.6 3270.1,1330.1 3260.2,1329.6 3242.1,1346.4 3239.5,1340.4 3233.1,1346.1 3224.5,1363.1 3211.6,1369.4 3200.5,1381.9 3186.2,1385.1 3174.9,1397.3 3172.8,1408.7 3162.6,1412.1 3163.7,1427.7 3095.4,1440.4 3001.8,1454.5 2956.8,1461.5 2942.4,1463.5 2843.7,1476.0 2848.8,1473.6 2852.9,1461.5 2850.3,1445.9 2859.1,1434.0 2859.7,1423.7 2867.2,1419.2 2867.6,1406.8 2876.1,1389.0 2874.0,1373.0 2876.9,1372.6 2880.3,1372.2 2886.6,1370.6 2951.9,1362.4Z"/><path fill="#c7e8bf" d="M2224.0,1406.4 2320.3,1407.4 2320.4,1534.7 2324.5,1533.9 2336.8,1546.5 2343.4,1544.3 2360.7,1544.9 2364.7,1557.4 2375.8,1556.6 2387.9,1562.2 2398.6,1561.3 2403.2,1566.6 2410.0,1560.3 2420.6,1563.0 2425.2,1570.1 2433.1,1571.0 2437.5,1579.8 2446.9,1571.0 2459.9,1575.6 2464.9,1580.8 2471.1,1578.1 2475.9,1586.2 2489.3,1571.0 2493.4,1578.4 2505.5,1578.0 2517.1,1582.2 2521.5,1587.7 2531.9,1577.2 2543.5,1573.4 2549.1,1576.7 2561.7,1569.6 2564.9,1573.0 2579.0,1572.6 2582.3,1566.7 2596.8,1572.3 2602.6,1579.5 2624.1,1585.4 2630.2,1591.1 2640.8,1587.1 2648.8,1589.5 2651.0,1624.2 2655.1,1691.2 2668.3,1704.6 2669.5,1718.9 2686.8,1744.2 2688.6,1758.1 2683.7,1775.4 2678.6,1782.6 2681.0,1791.4 2677.3,1798.5 2682.5,1810.6 2670.5,1834.8 2675.9,1840.9 2638.5,1852.6 2627.0,1864.0 2588.8,1900.4 2527.6,1936.7 2508.4,1954.0 2489.3,1976.9 2477.8,2001.8 2474.0,2024.7 2477.8,2051.5 2485.5,2074.5 2491.2,2093.6 2477.8,2101.3 2474.0,2097.5 2451.0,2089.8 2428.1,2087.9 2397.5,2076.4 2374.5,2064.9 2364.9,2040.0 2353.4,2020.9 2347.7,1990.3 2328.6,1978.8 2317.1,1955.9 2301.8,1944.4 2294.1,1917.6 2280.7,1890.8 2273.1,1879.3 2248.2,1860.2 2236.7,1846.8 2206.1,1844.9 2185.1,1840.3 2167.9,1848.7 2152.6,1881.3 2137.2,1896.6 2121.9,1890.8 2083.7,1871.7 2060.7,1852.6 2049.2,1818.1 2035.8,1783.7 2003.3,1753.1 1982.3,1730.1 1961.2,1709.1 1952.9,1702.8 1946.9,1694.8 1948.9,1688.5 2148.0,1699.6 2150.1,1634.0 2153.4,1567.7 2158.9,1404.6 2161.0,1404.6 2224.0,1406.4Z"/><path fill="#82c97f" d="M1727.1,1002.2 1781.2,1009.6 1772.7,1075.1 1871.2,1087.2 1858.1,1209.9 1852.1,1265.5 1852.2,1272.8 1844.6,1349.2 1768.4,1340.0 1583.7,1313.1 1637.0,987.7 1727.1,1002.2Z"/><path fill="#7f7f7f" d="M3612.6,614.5 3615.3,620.5 3613.1,633.1 3620.9,641.9 3617.7,655.2 3605.2,666.5 3610.9,681.9 3608.9,688.5 3610.0,704.0 3606.6,719.3 3612.4,747.1 3616.0,756.0 3613.2,760.8 3616.0,770.6 3621.5,773.7 3584.6,785.6 3582.3,780.2 3569.2,736.1 3558.7,728.1 3559.4,722.1 3549.7,706.1 3550.5,691.5 3547.6,679.0 3539.7,669.0 3538.1,656.4 3533.1,643.4 3578.2,628.1 3612.6,614.5Z"/><path fill="#bee5b6" d="M3576.4,1119.7 3583.6,1116.3 3580.3,1129.1 3574.6,1135.1 3574.6,1151.0 3570.9,1178.0 3563.7,1185.5 3558.6,1177.5 3557.6,1156.6 3564.0,1127.7 3576.4,1119.7ZM3406.9,1068.7 3437.8,1083.2 3439.9,1069.4 3447.7,1068.3 3454.4,1072.1 3456.9,1081.6 3467.9,1081.8 3475.9,1086.0 3482.1,1094.0 3480.5,1105.4 3475.8,1117.4 3481.3,1124.1 3489.0,1115.8 3496.5,1124.3 3514.0,1124.5 3528.1,1131.3 3535.9,1137.1 3538.0,1160.5 3540.1,1164.7 3535.9,1175.3 3542.3,1179.6 3546.5,1188.1 3548.6,1199.8 3565.6,1199.8 3578.9,1220.4 3394.2,1272.2 3354.1,1281.7 3318.7,1289.0 3282.3,1295.5 3179.2,1316.6 3205.3,1301.7 3207.3,1293.9 3216.7,1289.4 3216.2,1283.6 3223.0,1277.7 3222.0,1272.7 3238.9,1259.1 3254.9,1237.5 3255.2,1243.0 3264.4,1252.4 3274.2,1255.8 3280.5,1254.0 3288.5,1243.3 3296.9,1248.4 3309.2,1241.8 3329.6,1223.9 3332.4,1227.4 3340.0,1219.6 3337.7,1207.8 3340.9,1196.2 3348.1,1184.4 3349.3,1171.8 3356.3,1157.3 3356.7,1141.5 3367.2,1148.2 3376.0,1148.9 3379.9,1142.3 3385.0,1116.6 3392.6,1120.6 3409.0,1088.4 3406.9,1068.7Z"/><path fill="#edf7ea" d="M1590.4,506.5 1572.2,586.4 1553.5,672.9 1551.6,678.1 1555.0,690.7 1552.8,702.0 1461.1,680.8 1454.0,683.5 1436.0,680.6 1415.2,681.3 1402.7,684.9 1389.2,683.2 1384.3,678.5 1357.7,681.2 1357.4,676.6 1344.3,669.3 1332.0,667.0 1309.9,671.7 1289.4,658.1 1292.8,638.2 1291.0,629.3 1283.8,620.0 1279.5,619.4 1272.1,619.1 1266.7,609.5 1259.7,604.6 1252.2,606.5 1245.6,598.4 1250.0,590.2 1257.0,587.4 1252.5,571.5 1257.5,535.2 1255.5,529.6 1258.6,503.8 1253.4,491.8 1256.1,471.9 1264.7,460.9 1271.2,469.5 1285.6,482.9 1297.3,486.2 1307.9,492.9 1319.8,493.1 1323.4,500.2 1333.3,502.8 1359.0,464.1 1352.9,460.8 1349.0,451.6 1352.7,445.1 1590.4,506.5Z"/><path fill="#7f7f7f" d="M3347.8,1066.6 3355.2,1099.9 3363.4,1091.5 3370.4,1078.0 3377.4,1078.4 3384.6,1066.4 3400.2,1067.1 3400.3,1059.5 3408.4,1057.7 3411.6,1051.6 3421.4,1055.3 3429.7,1053.0 3439.9,1069.4 3437.8,1083.2 3406.9,1068.7 3409.0,1088.4 3392.6,1120.6 3385.0,1116.6 3379.9,1142.3 3376.0,1148.9 3367.2,1148.2 3356.7,1141.5 3356.3,1157.3 3349.3,1171.8 3348.1,1184.4 3340.9,1196.2 3337.7,1207.8 3340.0,1219.6 3332.4,1227.4 3329.6,1223.9 3309.2,1241.8 3296.9,1248.4 3288.5,1243.3 3280.5,1254.0 3274.2,1255.8 3264.4,1252.4 3255.2,1243.0 3254.9,1237.5 3248.0,1237.9 3236.8,1232.6 3232.8,1225.7 3222.8,1217.8 3214.3,1206.7 3211.8,1186.9 3224.7,1182.6 3224.9,1173.7 3230.2,1168.8 3225.7,1159.4 3231.8,1141.7 3241.2,1150.0 3245.1,1142.8 3242.2,1135.7 3245.8,1121.9 3251.6,1120.9 3255.3,1110.4 3261.6,1113.4 3267.3,1109.1 3281.8,1083.7 3281.0,1058.9 3284.1,1041.8 3282.1,1031.8 3277.0,1025.6 3283.4,1020.3 3296.9,1079.3 3347.8,1066.6Z"/><path fill="#bae3b3" d="M2752.7,718.8 2761.6,721.7 2767.9,732.2 2816.1,739.4 2836.7,746.4 2842.3,743.4 2862.6,747.0 2869.0,754.4 2879.7,760.9 2880.9,772.4 2878.0,782.0 2889.0,781.7 2886.2,791.7 2894.3,797.4 2893.7,805.5 2885.1,808.3 2879.8,824.5 2878.6,835.3 2884.2,836.3 2890.2,828.4 2895.8,814.4 2904.6,807.9 2909.6,790.2 2918.5,785.1 2920.1,799.9 2913.9,802.7 2905.3,831.9 2904.1,847.5 2906.0,858.2 2901.7,862.5 2899.5,877.9 2903.0,890.1 2900.1,899.0 2897.4,920.3 2901.1,936.2 2908.9,949.6 2909.9,968.8 2862.6,975.7 2773.5,985.9 2769.1,978.1 2751.2,972.5 2746.4,962.5 2743.2,947.9 2748.1,939.4 2740.4,933.7 2738.8,924.0 2735.4,916.8 2735.6,906.2 2725.0,892.8 2717.3,891.1 2702.8,881.3 2699.6,872.9 2684.6,867.2 2679.0,860.4 2669.2,860.3 2655.9,849.5 2657.0,825.1 2655.0,814.1 2659.4,803.5 2652.8,795.8 2647.5,795.5 2647.4,786.2 2656.6,771.1 2669.1,764.5 2671.4,760.3 2667.7,721.5 2676.2,715.2 2679.9,717.7 2690.1,717.4 2720.0,702.9 2730.8,695.5 2735.3,699.7 2730.2,709.1 2746.2,718.4 2752.7,718.8Z"/><path fill="#7f7f7f" d="M1898.2,824.5 2044.8,838.1 2131.1,843.7 2124.9,974.9 2118.7,1106.4 2035.4,1101.9 1927.0,1092.6 1871.2,1087.2 1772.7,1075.1 1781.2,1009.6 1802.8,847.6 1807.2,813.2 1898.2,824.5Z"/><path fill="#c9e9c2" d="M2613.4,1397.6 2841.7,1376.9 2847.7,1388.9 2840.4,1397.7 2833.3,1410.9 2867.6,1406.8 2867.2,1419.2 2859.7,1423.7 2859.1,1434.0 2850.3,1445.9 2852.9,1461.5 2848.8,1473.6 2843.7,1476.0 2847.6,1481.4 2839.5,1487.4 2836.8,1498.9 2831.5,1502.4 2833.7,1515.2 2824.3,1519.9 2825.0,1524.1 2814.7,1536.1 2818.7,1542.9 2809.8,1554.3 2803.0,1575.3 2813.5,1582.9 2809.1,1588.7 2813.4,1602.0 2810.0,1611.4 2674.9,1622.5 2651.0,1624.2 2648.8,1589.5 2640.8,1587.1 2630.2,1591.1 2624.1,1585.4 2620.2,1470.0 2605.9,1398.1 2613.4,1397.6Z"/><path fill="#7f7f7f" d="M1455.3,1801.2 1451.4,1800.5 1442.8,1794.1 1435.1,1787.4 1432.6,1787.4 1422.9,1792.0 1419.8,1792.3 1412.7,1786.9 1408.1,1785.4 1401.4,1785.9 1395.3,1783.9 1390.2,1780.3 1387.7,1776.7 1380.0,1773.7 1366.2,1774.5 1358.5,1767.8 1358.5,1761.1 1350.9,1757.3 1341.3,1758.3 1338.5,1748.7 1332.7,1745.8 1326.0,1739.1 1312.6,1748.7 1303.1,1749.7 1299.2,1746.8 1280.1,1756.4 1272.4,1754.4 1257.1,1765.9 1251.4,1775.5 1238.0,1785.0 1220.8,1780.3 1209.3,1791.7 1216.0,1804.2 1225.6,1822.4 1223.7,1836.7 1234.2,1844.4 1241.8,1848.2 1239.9,1863.5 1241.8,1869.2 1232.3,1872.1 1213.1,1865.4 1217.9,1852.0 1207.4,1848.2 1165.3,1857.8 1176.8,1875.0 1171.0,1878.8 1172.0,1894.1 1184.4,1905.6 1195.9,1904.6 1203.6,1908.5 1206.4,1916.1 1213.1,1909.4 1228.4,1905.6 1230.4,1915.2 1221.7,1919.0 1223.7,1936.2 1216.0,1944.8 1205.5,1941.9 1200.7,1938.1 1190.2,1950.5 1178.7,1941.0 1168.2,1953.4 1150.8,1968.7 1143.1,1975.4 1143.1,1985.9 1147.0,1996.4 1149.8,2003.1 1142.2,2011.7 1147.0,2020.4 1150.8,2033.7 1158.4,2039.5 1173.7,2034.7 1177.6,2054.8 1171.8,2062.4 1169.9,2076.8 1166.1,2077.8 1169.9,2081.6 1191.0,2073.0 1202.4,2081.6 1205.3,2095.9 1212.0,2089.2 1214.9,2082.5 1217.8,2093.1 1235.0,2087.3 1223.5,2108.4 1217.8,2124.6 1202.4,2135.2 1196.7,2141.8 1173.7,2149.5 1166.1,2157.2 1152.7,2157.2 1137.4,2165.8 1131.7,2172.5 1122.1,2172.5 1104.9,2172.5 1096.3,2181.1 1099.1,2186.8 1118.3,2184.9 1125.0,2180.1 1137.4,2177.2 1152.7,2169.6 1169.9,2167.7 1187.1,2163.8 1202.4,2156.2 1217.8,2148.5 1233.1,2137.1 1252.2,2123.7 1271.3,2112.2 1282.8,2098.8 1273.2,2089.2 1277.1,2081.6 1290.5,2070.1 1300.0,2058.6 1311.5,2047.1 1328.7,2033.7 1336.4,2035.7 1344.0,2029.9 1334.5,2039.5 1347.9,2048.1 1334.5,2044.3 1317.2,2043.3 1309.6,2058.6 1306.7,2074.9 1318.2,2075.8 1303.8,2087.3 1305.8,2093.1 1326.8,2082.5 1355.5,2070.1 1361.2,2075.8 1370.8,2068.0 1378.8,2066.3 1392.0,2061.9 1402.3,2066.3 1409.6,2072.1 1414.0,2074.3 1428.7,2072.9 1441.9,2075.1 1452.1,2080.2 1461.7,2082.4 1469.7,2080.9 1467.5,2086.1 1471.2,2089.7 1490.3,2100.0 1494.0,2104.4 1499.1,2110.3 1506.4,2114.7 1515.2,2120.5 1516.7,2127.9 1528.4,2151.3 1535.8,2157.2 1549.0,2173.4 1551.9,2152.8 1557.8,2180.7 1565.1,2182.2 1572.4,2198.3 1585.6,2210.0 1595.9,2207.1 1595.9,2191.0 1600.3,2170.4 1606.2,2180.7 1609.1,2192.4 1615.0,2202.7 1619.4,2195.4 1623.8,2185.1 1619.4,2171.9 1617.9,2163.8 1604.7,2157.2 1588.6,2152.8 1581.2,2142.5 1579.8,2138.2 1560.0,2108.8 1553.4,2102.2 1545.3,2096.3 1543.1,2091.2 1534.3,2086.1 1533.6,2078.7 1526.2,2073.3 1515.2,2079.5 1513.0,2083.9 1514.5,2091.2 1500.5,2100.7 1499.1,2091.9 1482.9,2075.1 1475.6,2069.9 1477.1,2062.2 1468.3,2063.3 1465.3,2067.4 1458.7,2065.1 1458.0,2067.0 1451.6,2066.0ZM1257.9,2135.2 1271.3,2125.6 1294.3,2106.5 1301.9,2119.8 1292.4,2142.8 1263.7,2158.1 1259.9,2146.6ZM1113.5,2010.8 1131.7,2011.7 1135.5,2016.5 1133.6,2028.0 1125.0,2029.0 1114.4,2015.6ZM1102.5,1896.0 1108.2,1892.2 1117.8,1907.5 1131.2,1919.0 1119.7,1924.7 1115.9,1915.2 1102.5,1903.7ZM1019.1,2207.1 1031.3,2199.6 1038.7,2194.0 1046.2,2194.9 1044.4,2199.6 1059.3,2195.9 1063.1,2188.4 1070.5,2189.3 1074.3,2195.9 1068.7,2199.6 1059.3,2202.4 1046.2,2203.3 1033.1,2204.3ZM883.5,2165.9 889.1,2169.7 891.0,2173.4 900.3,2175.3 898.4,2184.6 915.3,2186.5 922.8,2184.6 943.3,2190.2 947.1,2184.6 945.2,2192.1 959.2,2201.5 947.1,2195.9 935.9,2191.2 919.0,2186.5 902.2,2184.6 891.0,2177.1 884.4,2174.3ZM780.6,2048.1 786.2,2049.9 790.9,2057.4 789.9,2060.2 784.3,2056.5 781.5,2051.8ZM1076.2,2186.5 1085.5,2185.6 1089.2,2189.3 1081.8,2191.2ZM965.8,2197.7 972.3,2198.7 969.5,2200.5ZM783.4,2070.5 789.0,2072.4 787.1,2076.1Z"/><path fill="#6fc170" d="M1627.1,1961.2 1632.5,1954.7 1637.9,1952.5 1636.9,1949.9 1641.2,1951.4 1639.0,1959.0 1631.4,1963.4 1630.4,1967.7 1627.1,1964.5ZM1661.8,1948.2 1665.1,1940.6 1675.9,1936.3 1693.2,1937.8 1698.7,1947.1 1696.5,1961.2 1688.9,1967.3 1675.9,1964.5 1665.1,1955.8ZM1782.1,2002.8 1795.2,2002.8 1803.8,1994.2 1808.2,1999.1 1816.8,2010.0 1816.8,2015.4 1823.4,2018.0 1826.6,2018.7 1826.6,2024.1 1834.2,2031.7 1829.9,2034.9 1821.2,2033.8 1814.7,2030.6 1804.9,2028.4 1797.3,2028.4 1790.8,2017.6 1785.4,2008.9ZM1862.4,2051.2 1865.6,2041.9 1877.6,2044.7 1887.3,2045.3 1888.4,2044.0 1901.4,2047.9 1909.0,2051.2 1905.7,2056.2 1897.1,2058.8 1886.2,2055.5 1875.4,2052.3ZM1884.1,2069.6 1890.6,2068.5 1902.5,2074.0 1904.7,2080.5 1899.3,2084.8 1892.7,2085.9 1889.5,2077.2ZM1912.2,2067.4 1916.6,2063.1 1922.0,2064.2 1929.6,2074.0 1938.2,2071.8 1946.9,2072.9 1957.8,2082.6 1968.6,2088.0 1969.7,2093.5 1964.3,2097.8 1953.5,2100.4 1942.6,2102.1 1936.2,2097.8 1934.0,2089.1 1929.6,2082.6 1924.2,2082.6 1915.5,2076.1ZM1916.6,2103.2 1925.2,2098.9 1928.5,2101.1 1929.6,2106.5 1920.9,2106.9ZM1983.8,2133.6 1990.3,2131.4 2007.7,2144.4 2025.0,2152.0 2042.4,2162.8 2052.1,2171.5 2053.2,2180.2 2059.7,2181.3 2064.1,2191.0 2079.2,2199.7 2070.6,2210.5 2055.4,2219.2 2046.7,2220.3 2035.9,2223.6 2025.0,2233.3 2018.5,2247.5 2005.5,2238.8 1997.9,2232.3 1994.6,2208.4 1988.1,2193.2 1977.3,2175.9 1982.7,2167.2 1990.3,2163.9 1992.5,2153.1 1986.0,2143.3Z"/><path fill="#fff" d="M3689.6,816.0 3694.0,820.0 3697.0,828.0 3698.0,835.0 3695.0,838.0 3692.0,830.0 3690.0,823.0Z"/><path fill="none" d="M1333.3,502.8 1336.1,518.8 1341.4,519.3 1336.8,538.4 1334.8,556.4 1339.5,555.9 1339.6,540.0 1344.9,526.0 1356.1,513.3 1352.4,505.8 1355.0,495.2 1354.3,482.5 1358.8,474.7 1359.0,464.1"/>
</g>
<defs><linearGradient id="lg" x1="0" x2="1" y1="0" y2="0"><stop offset="0.0000" stop-color="#f7fcf5"/><stop offset="0.1250" stop-color="#e5f5e0"/><stop offset="0.2500" stop-color="#c7e9c0"/><stop offset="0.3750" stop-color="#a1d99b"/><stop offset="0.5000" stop-color="#74c476"/><stop offset="0.6250" stop-color="#41ab5d"/><stop offset="0.7500" stop-color="#238b45"/><stop offset="0.8750" stop-color="#006d2c"/><stop offset="1.0000" stop-color="#00441b"/></linearGradient></defs>
<rect x="1723.3" y="2504.5" width="1181.1" height="82.5" fill="url(#lg)"/>
<g stroke="#fff" stroke-width="1.6">
<path d="M1725.5 2504.5v16M1725.5 2571v16M2071.4 2504.5v16M2071.4 2571v16M2417.3 2504.5v16M2417.3 2571v16M2763.2 2504.5v16M2763.2 2571v16"/>
</g>
<g font-size="66" text-anchor="middle">
<text transform="translate(1725.5,2671) scale(1,1.02)">5%</text><text transform="translate(2071.4,2671) scale(1,1.02)">10%</text><text transform="translate(2417.3,2671) scale(1,1.02)">15%</text><text transform="translate(2763.2,2671) scale(1,1.02)">20%</text>
</g>
<g font-size="50.25">
<text transform="translate(629,2855.5) scale(1,1.045)">Proportion of adults who have an appointment estimated using the following survey question: <tspan font-style="italic">Do you have an appointment to receive a COVID-19 vaccine?</tspan></text>
<text transform="translate(629,2903.2) scale(1,1.045)">Asked of survey respondents who indicated that they would definitely or probably choose to get vaccinated. Source: COVID-19 Symptom Survey collected</text>
<text transform="translate(629,2951.2) scale(1,1.045)">by Carnegie Mellon University in partnership with Facebook, March, 2021.</text>
</g>
</svg>
</body></html>
